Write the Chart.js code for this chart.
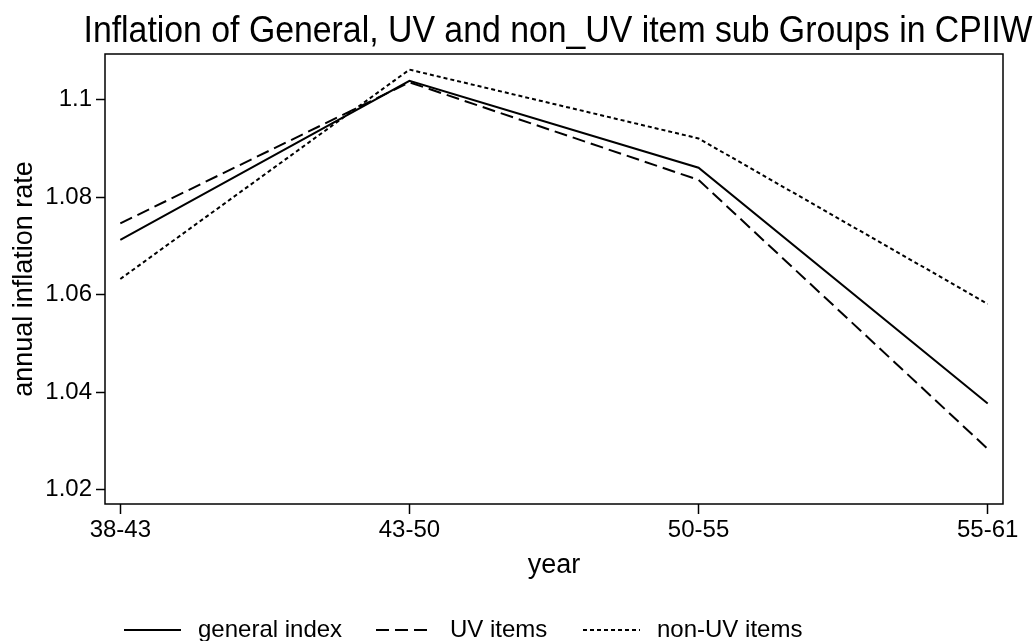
<!DOCTYPE html>
<html>
<head>
<meta charset="utf-8">
<title>Inflation CPIIW</title>
<script src="https://cdn.jsdelivr.net/npm/chart.js@4.4.0/dist/chart.umd.min.js"></script>
<style>
  html, body { margin: 0; padding: 0; background: #fff; }
  #wrap { width: 1034px; height: 641px; }
</style>
</head>
<body>
<div id="wrap"><canvas id="inflChart" width="1034" height="641"></canvas></div>
<script>
// ------------------------------------------------------------
// Data
// ------------------------------------------------------------
const periods = ["38-43", "43-50", "50-55", "55-61"];
const generalIndex = [1.0712, 1.1038, 1.0860, 1.0377];
const uvItems = [1.0746, 1.1035, 1.0835, 1.0284];
const nonUvItems = [1.0632, 1.1061, 1.0920, 1.0581];

const yTicks = [1.02, 1.04, 1.06, 1.08, 1.1];
const yTickLabels = ["1.02", "1.04", "1.06", "1.08", "1.1"];

const chartTitle = "Inflation of General, UV and non_UV item sub Groups in CPIIW";

const FONT = "'Liberation Sans', Arial, sans-serif";

const toPoints = (vals) => vals.map((v, i) => ({ x: i, y: v }));

// ------------------------------------------------------------
// Plugins: title, plot frame, bottom legend
// ------------------------------------------------------------
const topTitle = {
  id: "topTitle",
  afterDraw(chart) {
    const ctx = chart.ctx;
    ctx.save();
    ctx.font = "36px " + FONT;
    ctx.fillStyle = "#000";
    ctx.textAlign = "center";
    ctx.textBaseline = "middle";
    ctx.fillText(chartTitle, 558, 32, 949); // slightly condensed like the original
    ctx.restore();
  },
};

const frame = {
  id: "frame",
  afterDraw(chart) {
    const { ctx, chartArea: a } = chart;
    ctx.save();
    ctx.strokeStyle = "#000";
    ctx.lineWidth = 1.5;
    ctx.strokeRect(a.left, a.top, a.right - a.left, a.bottom - a.top);
    ctx.restore();
  },
};

const legendPos = [124, 376, 583]; // line start x per item
const bottomLegend = {
  id: "bottomLegend",
  afterDraw(chart) {
    const ctx = chart.ctx;
    const y = 630;
    ctx.save();
    ctx.font = "24px " + FONT;
    ctx.fillStyle = "#000";
    ctx.textBaseline = "middle";
    chart.data.datasets.forEach((ds, i) => {
      const x0 = legendPos[i];
      ctx.beginPath();
      ctx.setLineDash(ds.borderDash || []);
      ctx.lineWidth = ds.borderWidth;
      ctx.strokeStyle = ds.borderColor;
      ctx.moveTo(x0, y);
      ctx.lineTo(x0 + 57, y);
      ctx.stroke();
      ctx.setLineDash([]);
      ctx.fillText(ds.label, x0 + 74, y);
    });
    ctx.restore();
  },
};

// ------------------------------------------------------------
// Chart
// ------------------------------------------------------------
const ctx = document.getElementById("inflChart").getContext("2d");

new Chart(ctx, {
  type: "line",
  data: {
    datasets: [
      {
        label: "general index",
        data: toPoints(generalIndex),
        borderColor: "#000",
        borderWidth: 2,
        pointRadius: 0,
        tension: 0,
      },
      {
        label: "UV items",
        data: toPoints(uvItems),
        borderColor: "#000",
        borderWidth: 2,
        borderDash: [13, 6],
        pointRadius: 0,
        tension: 0,
      },
      {
        label: "non-UV items",
        data: toPoints(nonUvItems),
        borderColor: "#000",
        borderWidth: 2,
        borderDash: [4, 3],
        pointRadius: 0,
        tension: 0,
      },
    ],
  },
  options: {
    responsive: false,
    devicePixelRatio: 1,
    animation: false,
    layout: { padding: { left: 0, right: 31, top: 54, bottom: 55 } },
    plugins: {
      legend: { display: false },
      tooltip: { enabled: false },
      title: { display: false },
    },
    scales: {
      x: {
        type: "linear",
        min: -0.053,
        max: 3.053,
        afterBuildTicks: (s) => { s.ticks = periods.map((p, i) => ({ value: i })); },
        afterFit: (s) => { s.height = 82; },
        ticks: {
          color: "#000",
          font: { family: FONT, size: 24 },
          padding: 2,
          maxRotation: 0,
          autoSkip: false,
          callback: (v, i) => periods[i],
        },
        grid: { drawOnChartArea: false, drawTicks: true, tickLength: 10, color: "#000", tickWidth: 1.5 },
        border: { display: false },
        title: {
          display: true,
          text: "year",
          color: "#000",
          font: { family: FONT, size: 27 },
          padding: { top: 4, bottom: 4 },
        },
      },
      y: {
        min: 1.0171,
        max: 1.1093,
        afterBuildTicks: (s) => { s.ticks = yTicks.map((v) => ({ value: v })); },
        afterFit: (s) => { s.width = 105; },
        ticks: {
          color: "#000",
          font: { family: FONT, size: 24 },
          padding: 4,
          callback: (v, i) => yTickLabels[i],
        },
        grid: { drawOnChartArea: false, drawTicks: true, tickLength: 9, color: "#000", tickWidth: 1.5 },
        border: { display: false },
        title: {
          display: true,
          text: "annual inflation rate",
          color: "#000",
          font: { family: FONT, size: 27 },
          padding: { top: 8, bottom: 4 },
        },
      },
    },
  },
  plugins: [topTitle, frame, bottomLegend],
});
</script>
</body>
</html>
